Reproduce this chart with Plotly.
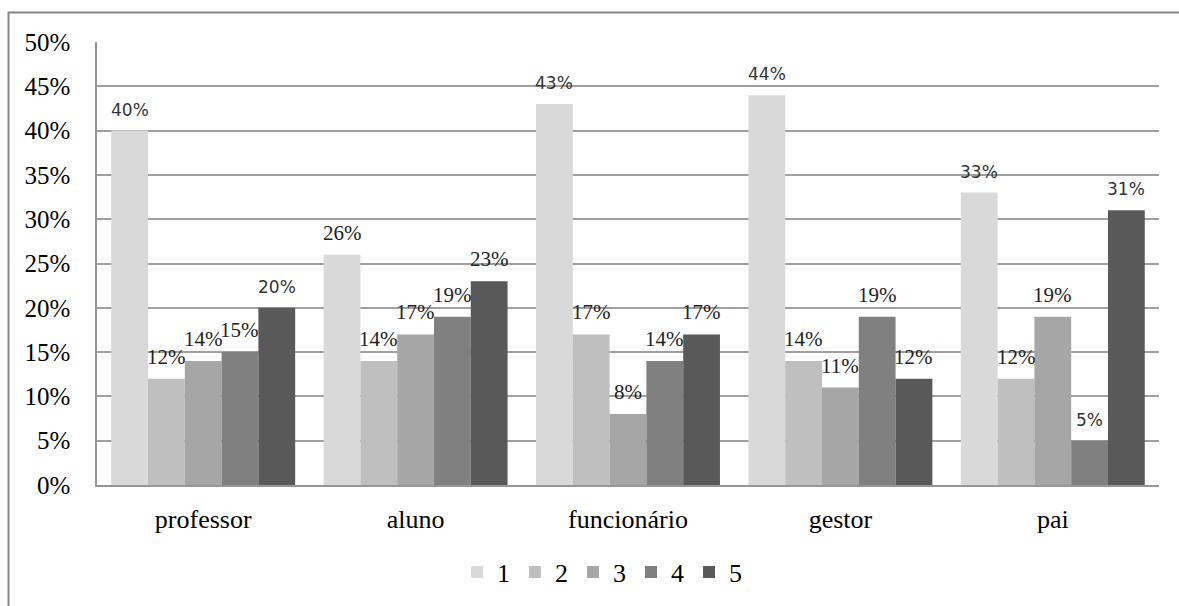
import plotly.graph_objects as go

# Respondent groups and the share choosing each rating (1-5)
categories = ["professor", "aluno", "funcionário", "gestor", "pai"]
series_names = ["1", "2", "3", "4", "5"]
values = {
    "1": [40, 26, 43, 44, 33],
    "2": [12, 14, 17, 14, 12],
    "3": [14, 17, 8, 11, 19],
    "4": [15, 19, 14, 19, 5],
    "5": [20, 23, 17, 12, 31],
}
colors = ["#D9D9D9", "#BFBFBF", "#A6A6A6", "#808080", "#595959"]

# labels drawn with the sans face (the rest use the serif face)
sans_labels = {("1", 0), ("1", 2), ("1", 3), ("1", 4), ("5", 0), ("5", 4), ("4", 4)}

BARGAP = 0.134
SERIF = "Liberation Serif, Times New Roman, serif"
SANS = "DejaVu Sans, Tahoma, sans-serif"

fig = go.Figure()
for name, col in zip(series_names, colors):
    fig.add_trace(go.Bar(
        x=categories,
        y=[v / 100 for v in values[name]],
        name=name,
        marker=dict(color=col, line=dict(width=0)),
    ))

# value labels above each bar
n = len(series_names)
w = (1 - BARGAP) / n
for k, name in enumerate(series_names):
    for i, v in enumerate(values[name]):
        sans = (name, i) in sans_labels
        fig.add_annotation(
            x=i + (k - (n - 1) / 2) * w,
            y=v / 100,
            text=f"{v}%",
            showarrow=False,
            yanchor="middle",
            xanchor="center",
            yshift=21 if sans else 22,
            font=dict(family=SANS if sans else SERIF,
                      size=17 if sans else 21,
                      color="#333333" if sans else "#222222"),
        )

# outer chart frame (extends past the right and bottom edges)
W0, H0 = 1062, 444
fig.add_shape(
    type="rect", xref="paper", yref="paper",
    x0=(8.5 - 97) / W0, x1=(1300 - 97) / W0,
    y0=(486 - 700) / H0, y1=1 + (42 - 12.5) / H0,
    line=dict(color="#868686", width=2),
    fillcolor="rgba(0,0,0,0)", layer="below",
)

fig.update_layout(
    width=1179, height=606,
    margin=dict(l=97, r=20, t=42, b=120),
    paper_bgcolor="white", plot_bgcolor="white",
    barmode="group", bargap=BARGAP, bargroupgap=0,
    font=dict(family=SERIF, color="black"),
    showlegend=True,
    legend=dict(
        orientation="h", x=(602 - 97) / W0, xanchor="center",
        y=(486 - 572) / H0, yanchor="middle",
        font=dict(family=SERIF, size=26, color="black"),
        itemwidth=30, tracegroupgap=0,
        entrywidth=13, entrywidthmode="pixels",
    ),
    xaxis=dict(
        range=[-0.5, 4.5], showgrid=False, showline=True,
        linecolor="#969696", linewidth=1.5,
        ticks="", tickfont=dict(family=SERIF, size=26, color="black"),
        ticklabelstandoff=10,
    ),
    yaxis=dict(
        range=[0, 0.5], dtick=0.05, tickformat=".0%",
        showgrid=True, gridcolor="#A0A0A0", gridwidth=1.5,
        showline=True, linecolor="#969696", linewidth=1.5,
        zeroline=False, ticks="",
        tickfont=dict(family=SERIF, size=25, color="black"),
        ticklabelstandoff=20,
    ),
)

fig.write_html("out.html")
